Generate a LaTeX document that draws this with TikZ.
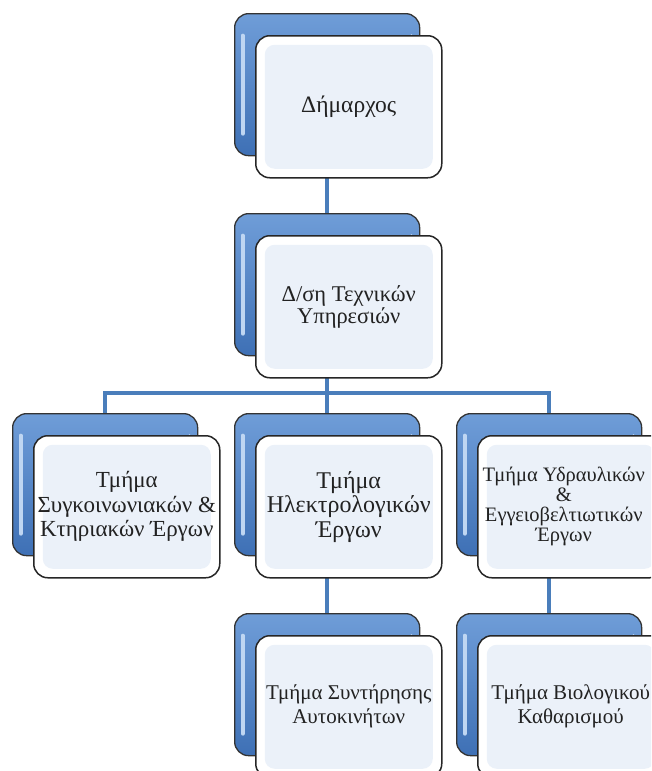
\documentclass[tikz,border=0pt]{standalone}
\usepackage{fontspec}
\setmainfont{Liberation Serif}
\usetikzlibrary{backgrounds,calc}
\definecolor{conn}{HTML}{4A7EBB}
\definecolor{btop}{HTML}{6F9DD8}
\definecolor{bbot}{HTML}{3E70B5}
\definecolor{hl}{HTML}{BFD6F2}
\definecolor{innerfill}{HTML}{EBF1F9}
\definecolor{txt}{HTML}{222222}
\newcommand\fsz[2]{\fontsize{#1}{#2}\selectfont\lineskiplimit=-30pt\relax\lineskip=0pt\relax}
\tikzset{
  backbox/.style={draw=black!80, line width=1.3pt, rounded corners=14pt,
    minimum width=185pt, minimum height=142pt, anchor=north west, inner sep=0pt,
    top color=btop, bottom color=bbot,
    path picture={
      \draw[hl, line width=4pt, line cap=round]
        ([shift={(8pt,-22pt)}]path picture bounding box.north west) --
        ([shift={(8pt,22pt)}]path picture bounding box.south west);
      \draw[hl, line width=3pt, line cap=round]
        ([shift={(-8pt,-22pt)}]path picture bounding box.north east) --
        ([shift={(-8pt,22pt)}]path picture bounding box.south east);
    }},
  frontbox/.style={draw=black!85, line width=1.5pt, rounded corners=14pt,
    minimum width=186pt, minimum height=142pt, anchor=north west, inner sep=0pt,
    fill=white, text=txt, align=center,
    font=\fsz{21}{24},
    path picture={
      \fill[innerfill, rounded corners=10pt]
        ([shift={(9pt,-9pt)}]path picture bounding box.north west) rectangle
        ([shift={(-9pt,9pt)}]path picture bounding box.south east);
    }},
  connector/.style={draw=conn, line width=3.5pt}
}
\begin{document}
\begin{tikzpicture}[x=1pt,y=-1pt]
\useasboundingbox (0,0) rectangle (651,771);
\clip (0,0) rectangle (651,771);
% level 1
\node[backbox] (b1) at (234,13) {};
\node[frontbox, font=\fsz{23.5}{24}] (f1) at (255,35) {Δήμαρχος};
% level 2
\node[backbox] (b2) at (234,213) {};
\node[frontbox, font=\fsz{22.5}{22.5}] (f2) at (255,235) {Δ/ση Τεχνικών\\Υπηρεσιών};
% level 3
\node[backbox] (b3) at (12,413) {};
\node[frontbox, font=\fsz{23}{24.5}] (f3) at (33,435) {Τμήμα\\Συγκοινωνιακών \&\\Κτηριακών Έργων};
\node[backbox] (b4) at (234,413) {};
\node[frontbox, font=\fsz{24}{24.5}] (f4) at (255,435) {Τμήμα\\Ηλεκτρολογικών\\Έργων};
\node[backbox] (b5) at (456,413) {};
\node[frontbox, font=\fsz{20.5}{20}] (f5) at (477,435) {\hspace*{-14pt}Τμήμα Υδραυλικών\\\hspace*{-14pt}\&\\\hspace*{-14pt}Εγγειοβελτιωτικών\\\hspace*{-14pt}Έργων};
% level 4
\node[backbox] (b6) at (234,613) {};
\node[frontbox, font=\fsz{21}{24}] (f6) at (255,635) {Τμήμα Συντήρησης\\Αυτοκινήτων};
\node[backbox] (b7) at (456,613) {};
\node[frontbox, font=\fsz{21}{24}] (f7) at (477,635) {Τμήμα Βιολογικού\\Καθαρισμού};
% connectors
\coordinate (bus) at (327,393);
\begin{pgfonlayer}{background}
\fill[white] (0,0) rectangle (651,771);
\draw[connector] (b1.center) -- (b2.center);
\draw[connector] (b2.center) -- (b4.center);
\draw[connector] (b3.center) |- (bus) -| (b5.center);
\draw[connector] (b4.center) -- (b6.center);
\draw[connector] (b5.center) -- (b7.center);
\end{pgfonlayer}
\end{tikzpicture}
\end{document}
